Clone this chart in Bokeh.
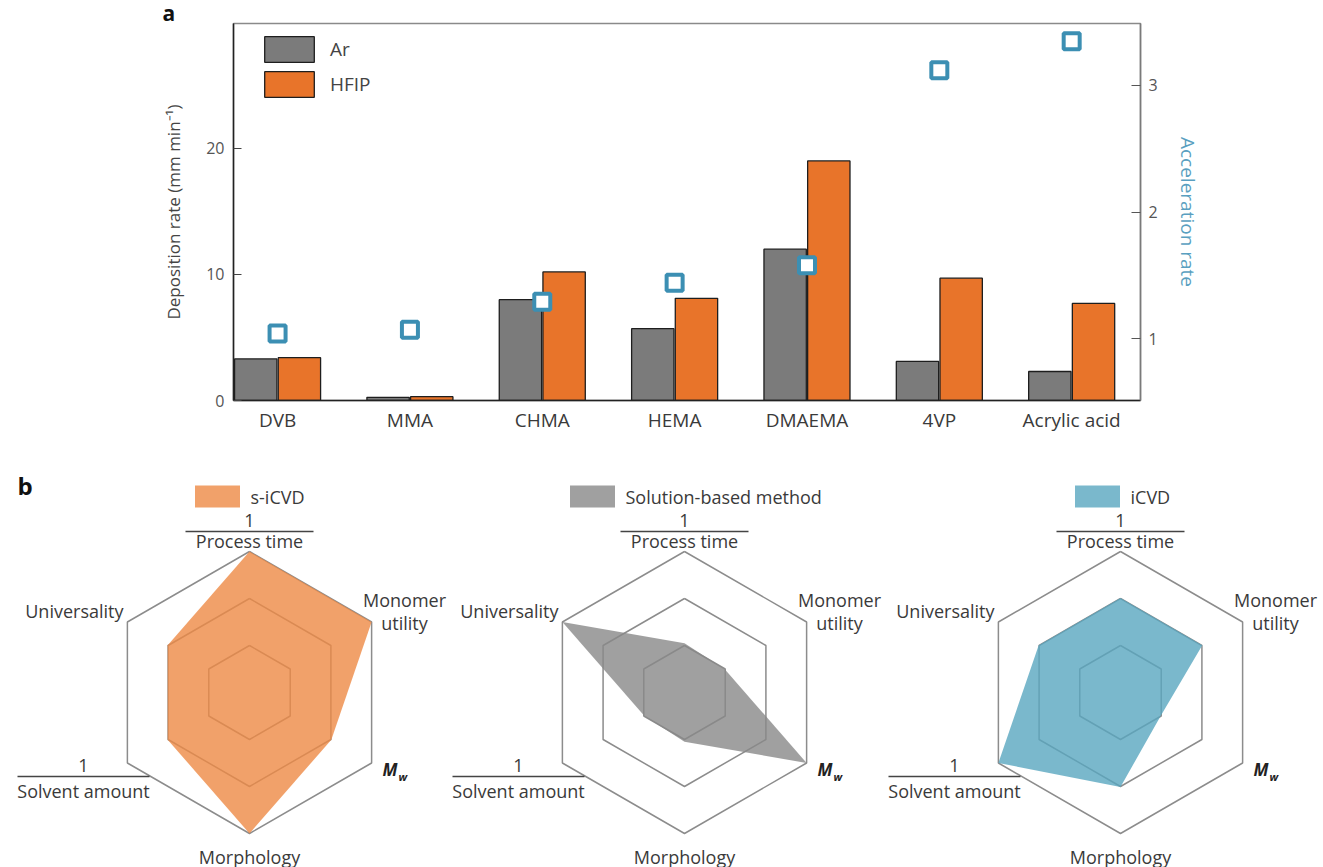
import math

from bokeh.core.properties import value
from bokeh.embed import file_html
from bokeh.layouts import column
from bokeh.models import (ColumnDataSource, FixedTicker, Legend, LegendItem,
                          LinearAxis, Range1d)
from bokeh.plotting import figure
from bokeh.resources import INLINE
from bokeh.transform import dodge

# ---------------- data ----------------
monomers = ["DVB", "MMA", "CHMA", "HEMA", "DMAEMA", "4VP", "Acrylic acid"]
rate_ar = [3.3, 0.25, 8.0, 5.7, 12.0, 3.1, 2.3]
rate_hfip = [3.4, 0.3, 10.2, 8.1, 19.0, 9.7, 7.7]
acceleration = [1.04, 1.07, 1.29, 1.44, 1.58, 3.12, 3.35]

radar_axes = ["Process time", "Monomer utility", "Mw", "Morphology",
              "Solvent amount", "Universality"]
method_names = ["s-iCVD", "Solution-based method", "iCVD"]
s_icvd = [1.0, 1.0, 0.67, 1.0, 0.67, 0.67]
solution_based = [0.35, 0.33, 1.0, 0.35, 0.33, 1.0]
icvd = [0.67, 0.67, 0.33, 0.67, 1.0, 0.67]
ring_levels = [1 / 3, 2 / 3, 1.0]

FONT = "Open Sans"
TXT = "#3a3a3a"
GRAY = "#7b7b7b"
ORANGE = "#e8742a"
TEAL = "#3c8fb3"

# ---------------- panel a: deposition rate bars ----------------
src = ColumnDataSource(dict(x=list(range(len(monomers))), ar=rate_ar,
                            hfip=rate_hfip, acc=acceleration))

p = figure(width=1323, height=440, output_backend="svg", toolbar_location=None,
           x_range=Range1d(-0.333, 6.52), y_range=Range1d(0, 29.9),
           min_border_left=233, min_border_right=183, min_border_top=23,
           min_border_bottom=40, frame_align=False)
p.extra_y_ranges = {"acc": Range1d(0.51, 3.49)}
p.grid.visible = False
p.outline_line_color = "#8a8a8a"
p.outline_line_width = 1.5

# panel letter as a left-aligned title pulled out past the frame edge
p.title.text = "a"
p.title.align = "left"
p.title.offset = -71
p.title.standoff = -7
p.title.text_font = FONT
p.title.text_font_size = "21px"
p.title.text_font_style = "bold"
p.title.text_color = "#111111"

bar_w = 0.32
r_ar = p.vbar(x=dodge("x", -0.165, range=p.x_range), top="ar", width=bar_w,
              source=src, fill_color=GRAY, line_color="#1e1e1e", line_width=1.3)
r_hf = p.vbar(x=dodge("x", 0.165, range=p.x_range), top="hfip", width=bar_w,
              source=src, fill_color=ORANGE, line_color="#1e1e1e", line_width=1.3)
p.scatter(x="x", y="acc", source=src, y_range_name="acc", marker="square",
          size=16, line_width=4, line_color=TEAL, fill_color="white")

xa = p.xaxis[0]
xa.ticker = FixedTicker(ticks=list(range(len(monomers))))
xa.major_label_overrides = {i: m for i, m in enumerate(monomers)}
xa.major_tick_line_color = None
xa.minor_tick_line_color = None
xa.axis_line_color = "#222222"
xa.axis_line_width = 1.5
xa.major_label_text_font = FONT
xa.major_label_text_font_size = "19px"
xa.major_label_text_color = TXT
xa.major_label_standoff = 0

ya = p.yaxis[0]
ya.ticker = FixedTicker(ticks=[0, 10, 20])
ya.axis_line_color = "#222222"
ya.axis_line_width = 1.5
ya.major_tick_in = 8
ya.major_tick_out = 0
ya.major_tick_line_color = "#444444"
ya.minor_tick_line_color = None
ya.major_label_text_font = FONT
ya.major_label_text_font_size = "16px"
ya.major_label_text_color = "#555555"
ya.major_label_standoff = 9
ya.axis_label = "Deposition rate (mm min\u207b\u00b9)"
ya.axis_label_text_font = FONT
ya.axis_label_text_font_style = "normal"
ya.axis_label_text_font_size = "17px"
ya.axis_label_text_color = "#444444"
ya.axis_label_standoff = 18

ra = LinearAxis(y_range_name="acc", ticker=FixedTicker(ticks=[1, 2, 3]))
ra.axis_line_color = "#7a7a7a"
ra.axis_line_width = 1.5
ra.major_tick_in = 9
ra.major_tick_out = 0
ra.major_tick_line_color = "#555555"
ra.minor_tick_line_color = None
ra.major_label_text_font = FONT
ra.major_label_text_font_size = "16px"
ra.major_label_text_color = "#555555"
ra.major_label_standoff = 8
ra.axis_label = "Acceleration rate"
ra.axis_label_text_font = FONT
ra.axis_label_text_font_style = "normal"
ra.axis_label_text_font_size = "19px"
ra.axis_label_text_color = "#5a9fc0"
ra.axis_label_standoff = 14
p.add_layout(ra, "right")

legend = Legend(items=[LegendItem(label="Ar", renderers=[r_ar]),
                       LegendItem(label="HFIP", renderers=[r_hf])],
                location=(25, 300), margin=0, padding=0, spacing=3,
                glyph_width=62, glyph_height=32, label_standoff=10,
                label_text_font=FONT, label_text_font_size="19px",
                label_text_color="#444444", border_line_color=None,
                background_fill_alpha=0)
p.add_layout(legend)

# ---------------- panel b: radar comparisons ----------------
q = figure(width=1323, height=427, output_backend="svg", toolbar_location=None,
           x_range=Range1d(0, 1323), y_range=Range1d(867, 440),
           x_axis_location=None, y_axis_location=None, min_border=0,
           frame_align=False)
q.grid.visible = False
q.outline_line_color = None

centers = [249, 684, 1120]
cy = 692
R = 141
fills = ["#ee8a45", "#888888", "#59a6bf"]
series = [s_icvd, solution_based, icvd]
legend_dx = [-32, -92, -23]
RFS = "18px"


def spoke(k):
    return math.radians(90 - 60 * k)


ring_xs, ring_ys = [], []
poly_xs, poly_ys = [], []
for cx, vals in zip(centers, series):
    for lv in ring_levels:
        ring_xs.append([cx + R * lv * math.cos(spoke(k)) for k in range(7)])
        ring_ys.append([cy - R * lv * math.sin(spoke(k)) for k in range(7)])
    poly_xs.append([cx + R * v * math.cos(spoke(k)) for k, v in enumerate(vals)])
    poly_ys.append([cy - R * v * math.sin(spoke(k)) for k, v in enumerate(vals)])

q.multi_line(xs=ring_xs, ys=ring_ys, line_color="#8c8c8c", line_width=1.5)
q.patches(xs=poly_xs, ys=poly_ys, fill_color=fills, fill_alpha=0.8,
          line_color=None)

# legend swatches above each radar
q.rect(x=[c + d for c, d in zip(centers, legend_dx)], y=[496] * 3, width=45,
       height=22, fill_color=fills, fill_alpha=0.8, line_color=None)
q.text(x=[c + d + 33 for c, d in zip(centers, legend_dx)], y=[496] * 3,
       text=method_names, text_font=value(FONT), text_font_size=RFS,
       text_color=TXT, text_baseline="middle", text_align="left")

# "1 / x" fraction strokes
frac_x, frac_y = [], []
for cx in centers:
    frac_x += [[cx - 64, cx + 64], [cx - 232, cx - 100]]
    frac_y += [[cy - 161, cy - 161], [cy + 84, cy + 84]]
q.multi_line(xs=frac_x, ys=frac_y, line_color="#444444", line_width=1.5)

lab_x, lab_y, lab_t, lab_a = [], [], [], []
for cx in centers:
    entries = [
        (cx, cy - 172, "1", "center"),
        (cx, cy - 152, radar_axes[0], "center"),
        (cx + 155, cy - 93, "Monomer", "center"),
        (cx + 155, cy - 70, "utility", "center"),
        (cx - 166, cy + 73, "1", "center"),
        (cx - 166, cy + 98, radar_axes[4], "center"),
        (cx, cy + 164, radar_axes[3], "center"),
        (cx - 126, cy - 82, radar_axes[5], "right"),
    ]
    for x, y, t, a in entries:
        lab_x.append(x)
        lab_y.append(y)
        lab_t.append(t)
        lab_a.append(a)
lab_src = ColumnDataSource(dict(x=lab_x, y=lab_y, t=lab_t, a=lab_a))
q.text(x="x", y="y", text="t", text_align="a", source=lab_src,
       text_font=value(FONT), text_font_size=RFS, text_color=TXT,
       text_baseline="middle")

# molecular-weight axis label: italic M with subscript w
q.text(x=[c + 133 for c in centers], y=[cy + 77] * 3, text=["M"] * 3,
       text_font=value(FONT), text_font_size="17px", text_font_style="bold italic",
       text_color="#222222", text_baseline="middle", text_align="left")
q.text(x=[c + 149 for c in centers], y=[cy + 84] * 3, text=["w"] * 3,
       text_font=value(FONT), text_font_size="11px", text_font_style="bold italic",
       text_color="#222222", text_baseline="middle", text_align="left")

q.text(x=[17], y=[485], text=["b"], text_font=value(FONT),
       text_font_style="bold", text_font_size="24px", text_color="#111111",
       text_baseline="middle", text_align="left")

layout = column(p, q, spacing=0)
open("out.html", "w").write(file_html(layout, INLINE))
